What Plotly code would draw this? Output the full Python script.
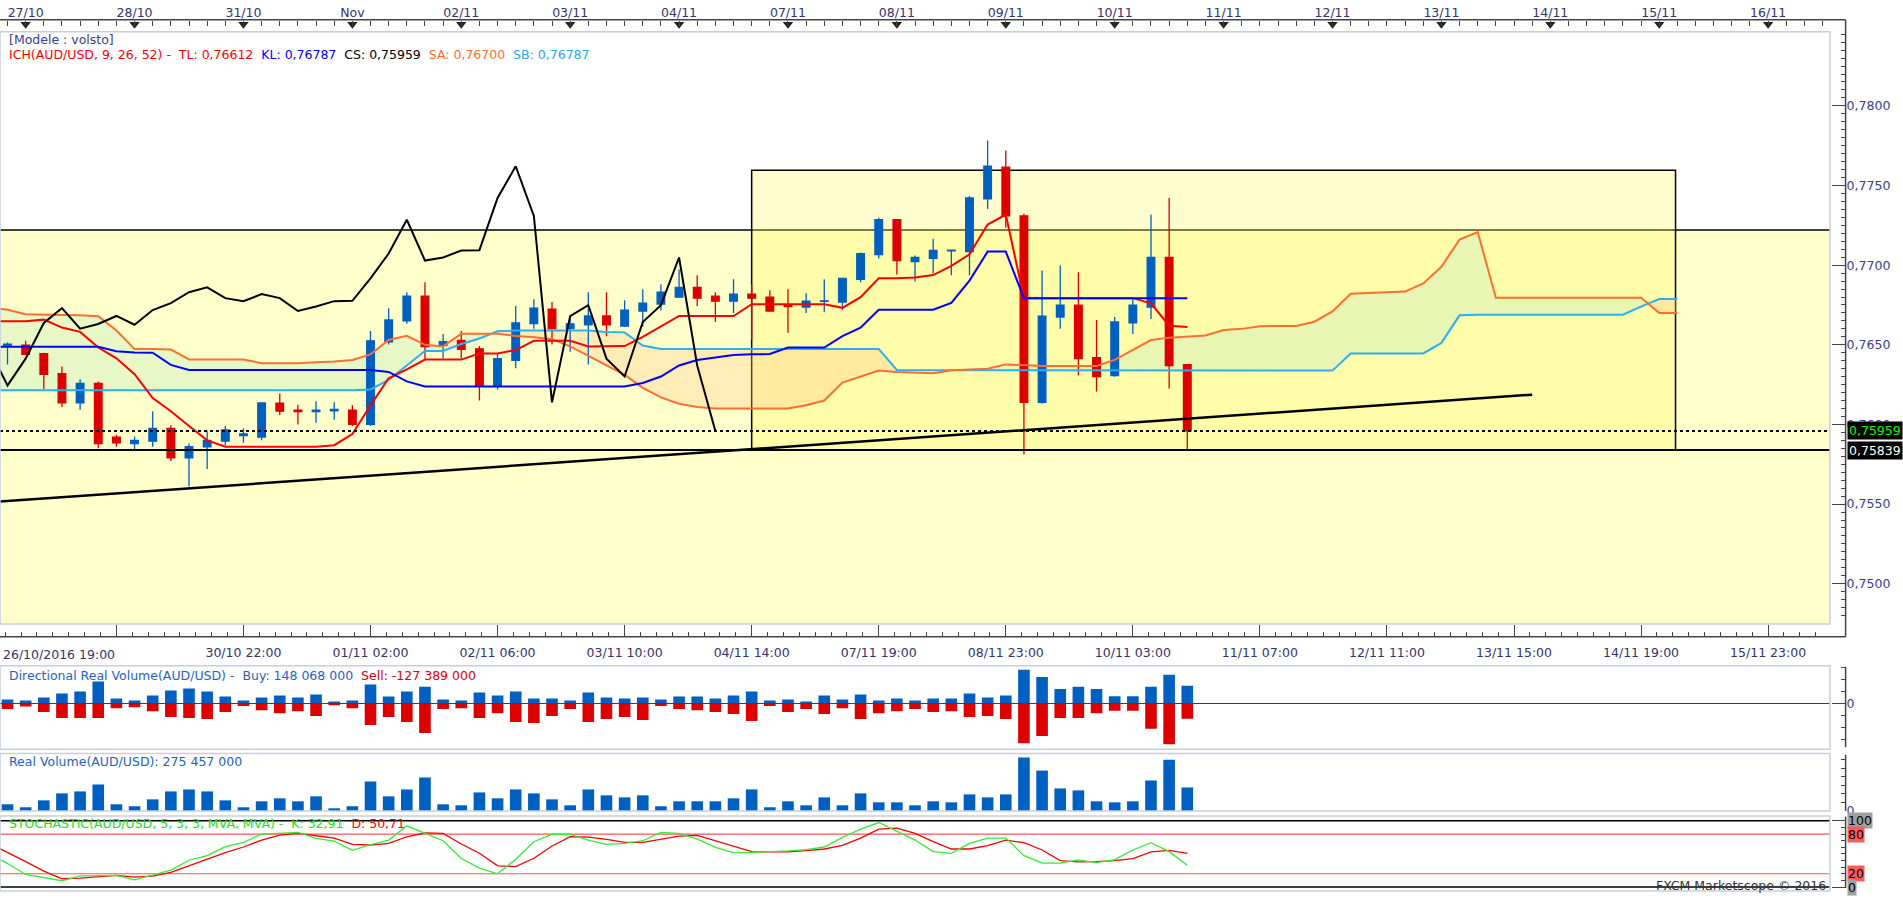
import plotly.graph_objects as go

# ============================ DATA ============================
# 4-hour candles, index 0..65
OPEN = [0.76492, 0.76498, 0.76444, 0.76319, 0.76135, 0.76257, 0.75920, 0.75880, 0.75895, 0.75975,
        0.75790, 0.75860, 0.75895, 0.75930, 0.75920, 0.76133, 0.76090, 0.76080, 0.76085, 0.76090,
        0.76000, 0.76519, 0.76651, 0.76805, 0.76496, 0.76527, 0.76475, 0.76240, 0.76402, 0.76633,
        0.76724, 0.76601, 0.76626, 0.76681, 0.76618, 0.76712, 0.76755, 0.76799, 0.76861, 0.76805,
        0.76774, 0.76818, 0.76799, 0.76748, 0.76737, 0.76772, 0.76768, 0.76911, 0.77067, 0.77285,
        0.77023, 0.77042, 0.77090, 0.77085, 0.77417, 0.77615, 0.77309, 0.76139, 0.76674, 0.76749,
        0.76419, 0.76307, 0.76637, 0.76737, 0.77048, 0.76376]
HIGH = [0.76514, 0.76525, 0.76450, 0.76363, 0.76284, 0.76270, 0.75935, 0.75925, 0.76083, 0.75995,
        0.75880, 0.75960, 0.75990, 0.75975, 0.76140, 0.76195, 0.76124, 0.76145, 0.76140, 0.76120,
        0.76587, 0.76730, 0.76830, 0.76892, 0.76567, 0.76586, 0.76492, 0.76442, 0.76743, 0.76786,
        0.76768, 0.76681, 0.76830, 0.76830, 0.76780, 0.76849, 0.76880, 0.76973, 0.76936, 0.76830,
        0.76911, 0.76880, 0.76842, 0.76849, 0.76824, 0.76911, 0.76917, 0.77079, 0.77297, 0.77285,
        0.77060, 0.77166, 0.77095, 0.77434, 0.77783, 0.77720, 0.77322, 0.76966, 0.76998, 0.76955,
        0.76656, 0.76674, 0.76786, 0.77316, 0.77422, 0.76376]
LOW = [0.76377, 0.76436, 0.76222, 0.76110, 0.76093, 0.75850, 0.75860, 0.75845, 0.75860, 0.75770,
       0.75610, 0.75720, 0.75870, 0.75885, 0.75900, 0.76060, 0.76000, 0.76010, 0.76030, 0.75990,
       0.75990, 0.76502, 0.76632, 0.76408, 0.76415, 0.76415, 0.76150, 0.76220, 0.76352, 0.76601,
       0.76502, 0.76456, 0.76377, 0.76556, 0.76612, 0.76612, 0.76716, 0.76799, 0.76743, 0.76643,
       0.76699, 0.76533, 0.76712, 0.76575, 0.76699, 0.76705, 0.76718, 0.76893, 0.77042, 0.76942,
       0.76898, 0.76948, 0.76936, 0.76936, 0.77353, 0.77235, 0.75811, 0.76130, 0.76600, 0.76307,
       0.76207, 0.76300, 0.76568, 0.76662, 0.76226, 0.75834]
CLOSE = [0.76504, 0.76440, 0.76315, 0.76135, 0.76257, 0.75880, 0.75885, 0.75900, 0.75975, 0.75790,
         0.75860, 0.75900, 0.75965, 0.75940, 0.76135, 0.76083, 0.76080, 0.76090, 0.76095, 0.76000,
         0.76525, 0.76656, 0.76805, 0.76489, 0.76519, 0.76471, 0.76245, 0.76413, 0.76637, 0.76730,
         0.76601, 0.76631, 0.76681, 0.76626, 0.76718, 0.76761, 0.76830, 0.76861, 0.76793, 0.76774,
         0.76818, 0.76793, 0.76712, 0.76740, 0.76774, 0.76776, 0.76917, 0.77073, 0.77285, 0.77029,
         0.77048, 0.77092, 0.77094, 0.77422, 0.77621, 0.77309, 0.76139, 0.76680, 0.76749, 0.76413,
         0.76301, 0.76643, 0.76749, 0.77048, 0.76370, 0.75959]

# Ichimoku lines (index -1 .. 65)
TENKAN = [0.76648, 0.76648, 0.76648, 0.76658, 0.76608, 0.76581, 0.76483, 0.76415, 0.76315, 0.76166, 0.76083,
          0.75990, 0.75900, 0.75860, 0.75860, 0.75860, 0.75860, 0.75860, 0.75860, 0.75870, 0.75940,
          0.76120, 0.76290, 0.76346, 0.76407, 0.76407, 0.76407, 0.76446, 0.76446, 0.76467, 0.76525,
          0.76525, 0.76525, 0.76490, 0.76490, 0.76492, 0.76550, 0.76616, 0.76681, 0.76681, 0.76681,
          0.76681, 0.76755, 0.76755, 0.76755, 0.76755, 0.76755, 0.76732, 0.76799, 0.76917, 0.76917,
          0.76923, 0.76938, 0.76996, 0.77068, 0.77255, 0.77318, 0.76793, 0.76793, 0.76793, 0.76793,
          0.76793, 0.76793, 0.76793, 0.76760, 0.76620, 0.76612]
KIJUN = [0.76488, 0.76488, 0.76488, 0.76488, 0.76488, 0.76488, 0.76488, 0.76460, 0.76452, 0.76450, 0.76374,
         0.76342, 0.76342, 0.76342, 0.76342, 0.76342, 0.76342, 0.76342, 0.76342, 0.76342, 0.76342,
         0.76342, 0.76330, 0.76270, 0.76238, 0.76238, 0.76238, 0.76238, 0.76238, 0.76238, 0.76238,
         0.76238, 0.76238, 0.76238, 0.76238, 0.76238, 0.76260, 0.76301, 0.76370, 0.76405, 0.76420,
         0.76436, 0.76440, 0.76442, 0.76483, 0.76483, 0.76483, 0.76554, 0.76608, 0.76720, 0.76720,
         0.76720, 0.76720, 0.76763, 0.76903, 0.77085, 0.77085, 0.76793, 0.76793, 0.76793, 0.76793,
         0.76793, 0.76793, 0.76793, 0.76793, 0.76793, 0.76793]
# Senkou spans (index -1 .. 92)
SENKOU_A = [0.76735,
            0.76720, 0.76692, 0.76688, 0.76687, 0.76686, 0.76680, 0.76590, 0.76473, 0.76473, 0.76470,
            0.76408, 0.76408, 0.76408, 0.76408, 0.76384, 0.76384, 0.76384, 0.76390, 0.76395, 0.76405,
            0.76440, 0.76530, 0.76556, 0.76500, 0.76490, 0.76570, 0.76570, 0.76570, 0.76555, 0.76548,
            0.76535, 0.76490, 0.76430, 0.76373, 0.76311, 0.76230, 0.76170, 0.76130, 0.76110, 0.76100,
            0.76100, 0.76100, 0.76100, 0.76100, 0.76120, 0.76150, 0.76263, 0.76301, 0.76338, 0.76330,
            0.76326, 0.76321, 0.76340, 0.76346, 0.76350, 0.76377, 0.76372, 0.76367, 0.76367, 0.76367,
            0.76367, 0.76405, 0.76465, 0.76530, 0.76545, 0.76554, 0.76559, 0.76593, 0.76600, 0.76617,
            0.76618, 0.76618, 0.76645, 0.76710, 0.76820, 0.76824, 0.76828, 0.76834, 0.76885, 0.76990,
            0.77160, 0.77208, 0.76795, 0.76795, 0.76795, 0.76795, 0.76795, 0.76795, 0.76795, 0.76795,
            0.76795, 0.76700, 0.76700]
SENKOU_B = [0.76215,
            0.76215, 0.76215, 0.76215, 0.76215, 0.76215, 0.76215, 0.76215, 0.76215, 0.76215, 0.76215,
            0.76215, 0.76215, 0.76215, 0.76215, 0.76215, 0.76215, 0.76215, 0.76215, 0.76215, 0.76215,
            0.76220, 0.76280, 0.76370, 0.76461, 0.76461, 0.76505, 0.76540, 0.76585, 0.76589, 0.76589,
            0.76589, 0.76589, 0.76589, 0.76581, 0.76578, 0.76495, 0.76473, 0.76473, 0.76473, 0.76473,
            0.76473, 0.76473, 0.76473, 0.76473, 0.76473, 0.76473, 0.76473, 0.76473, 0.76473, 0.76342,
            0.76342, 0.76342, 0.76342, 0.76342, 0.76342, 0.76342, 0.76342, 0.76342, 0.76342, 0.76342,
            0.76342, 0.76342, 0.76342, 0.76342, 0.76342, 0.76342, 0.76342, 0.76342, 0.76342, 0.76342,
            0.76342, 0.76342, 0.76342, 0.76338, 0.76446, 0.76446, 0.76446, 0.76446, 0.76446, 0.76512,
            0.76685, 0.76689, 0.76689, 0.76689, 0.76689, 0.76689, 0.76689, 0.76689, 0.76689, 0.76689,
            0.76740, 0.76787, 0.76787]
CHIKOU_SHIFT = 26

# Directional real volume (millions), index 0..65
BUY_VOL = [33, 25, 50, 83, 100, 183, 42, 25, 66, 108,
           125, 100, 58, 25, 50, 66, 50, 75, 17, 25,
           158, 58, 100, 141, 33, 25, 91, 66, 100, 42,
           42, 25, 91, 50, 42, 50, 33, 58, 58, 42,
           66, 100, 25, 33, 17, 66, 33, 75, 25, 42,
           25, 42, 42, 83, 50, 66, 282, 222, 121, 141,
           121, 61, 61, 141, 241, 148.068]
SELL_VOL = [-47, -25, -72, -122, -122, -122, -39, -31, -64, -114,
            -122, -130, -72, -22, -56, -81, -64, -105, -14, -39,
            -180, -114, -155, -246, -47, -39, -122, -81, -155, -164,
            -105, -47, -155, -130, -114, -139, -22, -47, -56, -72,
            -89, -147, -22, -72, -47, -89, -39, -130, -81, -64,
            -47, -72, -64, -114, -105, -130, -332, -272, -121, -121,
            -81, -61, -61, -212, -340, -127.389]
REAL_VOL = [78, 43, 124, 206, 229, 310, 78, 55, 136, 229,
            252, 229, 124, 43, 113, 148, 113, 171, 31, 55,
            345, 171, 252, 392, 78, 66, 217, 148, 252, 206,
            136, 66, 252, 183, 159, 183, 55, 113, 113, 113,
            148, 252, 43, 113, 66, 159, 66, 206, 101, 101,
            66, 113, 101, 194, 159, 194, 625, 473, 264, 241,
            113, 101, 113, 357, 601, 275.457]

# Stochastic (index -1 .. 65)
STOCH_K = [50,
           35.5, 19, 14, 9.5, 17, 17.5, 17.5, 11, 18, 25.5,
           40.5, 47.5, 61, 67.5, 80, 81, 82.5, 73.5, 69.5, 55.5,
           64, 71, 92.5, 81, 70, 43, 28.5, 20, 42, 68.5,
           80, 79.5, 71, 64.5, 66, 70, 82.5, 81, 72.5, 60,
           51.5, 52.5, 53, 54.5, 56.5, 60.5, 75, 87.5, 97.5, 84,
           71, 53.5, 51, 66, 74, 74, 47.5, 36, 36, 41,
           37, 41.5, 56, 67, 53.5, 32.91]
STOCH_D = [66,
           52.5, 38.5, 24, 12.5, 13.5, 15.5, 17.5, 15, 16.5, 22,
           32, 42, 52, 60.5, 71, 78.5, 81, 77.5, 74, 64.5,
           63.5, 66, 76, 82, 81, 65, 51, 32, 31, 43.5,
           62, 76, 75.5, 72, 67.5, 67.5, 72, 77, 78, 70,
           61, 53.5, 53, 53, 55, 57.5, 63, 74, 87.5, 89,
           81, 68.5, 57.5, 57.5, 62.5, 71, 67, 56, 40, 38,
           38.5, 40, 43, 53, 55.5, 50.71]
STOCH_LEVELS = [0, 20, 80, 100]

# Axis labels
TOP_LABELS = ['27/10', '28/10', '31/10', 'Nov', '02/11', '03/11', '04/11', '07/11', '08/11',
              '09/11', '10/11', '11/11', '12/11', '13/11', '14/11', '15/11', '16/11']
TOP_LABEL_IDX = [1, 7, 13, 19, 25, 31, 37, 43, 49, 55, 61, 67, 73, 79, 85, 91, 97]
BOTTOM_LABELS = ['', '30/10 22:00', '01/11 02:00', '02/11 06:00', '03/11 10:00', '04/11 14:00',
                 '07/11 19:00', '08/11 23:00', '10/11 03:00', '11/11 07:00', '12/11 11:00',
                 '13/11 15:00', '14/11 19:00', '15/11 23:00']
BOTTOM_LABEL_IDX = [6, 13, 20, 27, 34, 41, 48, 55, 62, 69, 76, 83, 90, 97]
FIRST_BOTTOM_LABEL = '26/10/2016 19:00'
PRICE_TICKS = [0.7500, 0.7550, 0.7600, 0.7650, 0.7700, 0.7750, 0.7800]

# Drawn objects (data units)
SUPPORT = 0.75839
LAST_PRICE = 0.75959
RESISTANCE = 0.7722
BOX_X = [41, 91.9]
BOX_Y = [0.75839, 0.77596]
TREND_X = [-0.413, 84.0]
TREND_Y = [0.75516, 0.76187]

# ============================ LAYOUT HELPERS ============================
FW, FH = 1903, 900
def fx(p):
    return p / FW
def fy(p):
    return 1 - p / FH

X_RANGE = [-0.413, 100.41]
X_DOM = [0, fx(1830)]
AXIS_POS = fx(1845.6)
Y_MAIN = [0.747465, 0.784653]
BLUE = '#0060C0'
RED = '#DD0000'
TXT = '#33336E'
AXC = '#3D3D8F'
FONT = 'DejaVu Sans'
FS = 12.5

N = len(CLOSE)
X = list(range(N))
XL = list(range(-1, N))
XS = list(range(-1, len(SENKOU_A) - 1))

fig = go.Figure()

# ---- Ichimoku lines ----
fig.add_trace(go.Scatter(x=XS, y=SENKOU_B, mode='lines', line=dict(color='#2AB0F0', width=2),
                         hoverinfo='skip', xaxis='x', yaxis='y'))
fig.add_trace(go.Scatter(x=XS, y=SENKOU_A, mode='lines', line=dict(color='#FF6E30', width=2),
                         hoverinfo='skip', xaxis='x', yaxis='y'))
fig.add_trace(go.Scatter(x=XL, y=TENKAN, mode='lines', line=dict(color='#FF0000', width=2),
                         hoverinfo='skip', xaxis='x', yaxis='y'))
fig.add_trace(go.Scatter(x=XL, y=KIJUN, mode='lines', line=dict(color='#0000FF', width=2),
                         hoverinfo='skip', xaxis='x', yaxis='y'))
ch_x = [k - CHIKOU_SHIFT for k in X if k - CHIKOU_SHIFT >= -1]
ch_y = [CLOSE[k] for k in X if k - CHIKOU_SHIFT >= -1]
fig.add_trace(go.Scatter(x=ch_x, y=ch_y, mode='lines', line=dict(color='#000000', width=2),
                         hoverinfo='skip', xaxis='x', yaxis='y'))

# ---- Candles ----
fig.add_trace(go.Candlestick(
    x=X, open=OPEN, high=HIGH, low=LOW, close=CLOSE, xaxis='x', yaxis='y',
    increasing=dict(line=dict(color=BLUE, width=1.3), fillcolor=BLUE),
    decreasing=dict(line=dict(color=RED, width=1.3), fillcolor=RED),
    whiskerwidth=0, hoverinfo='skip', showlegend=False))

# ---- Directional real volume ----
fig.add_trace(go.Bar(x=X, y=BUY_VOL, width=0.64, marker=dict(color=BLUE, line=dict(width=0)),
                     hoverinfo='skip', xaxis='x2', yaxis='y2'))
fig.add_trace(go.Bar(x=X, y=SELL_VOL, width=0.64, marker=dict(color=RED, line=dict(width=0)),
                     hoverinfo='skip', xaxis='x2', yaxis='y2'))
# ---- Real volume ----
fig.add_trace(go.Bar(x=X, y=REAL_VOL, width=0.64, marker=dict(color=BLUE, line=dict(width=0)),
                     hoverinfo='skip', xaxis='x3', yaxis='y3'))
# ---- Stochastic ----
fig.add_trace(go.Scatter(x=XL, y=STOCH_D, mode='lines', line=dict(color='#FF0000', width=1.3),
                         hoverinfo='skip', xaxis='x4', yaxis='y4'))
fig.add_trace(go.Scatter(x=XL, y=STOCH_K, mode='lines', line=dict(color='#33EE33', width=1.3),
                         hoverinfo='skip', xaxis='x4', yaxis='y4'))

# ---- Top axis triangles ----
fig.add_trace(go.Scatter(x=TOP_LABEL_IDX, y=[0.5] * len(TOP_LABEL_IDX), mode='markers',
                         marker=dict(symbol='triangle-down', size=9, color='#222222'),
                         cliponaxis=False, hoverinfo='skip', xaxis='x5', yaxis='y5'))

# ============================ AXES ============================
tickfont = dict(family=FONT, size=FS, color=AXC)
common_x = dict(range=X_RANGE, domain=X_DOM, showgrid=False, zeroline=False, fixedrange=True)

layout = dict(
    width=FW, height=FH, autosize=False, margin=dict(l=0, r=0, t=0, b=0),
    paper_bgcolor='white', plot_bgcolor='white', showlegend=False,
    font=dict(family=FONT, size=FS, color=TXT), separators=', ',
    boxgap=0.4, barmode='relative',
    xaxis=dict(**common_x, anchor='free', position=fy(641.7), side='bottom',
               rangeslider=dict(visible=False),
               tickmode='array', tickvals=BOTTOM_LABEL_IDX, ticktext=BOTTOM_LABELS,
               ticks='inside', ticklen=12, tickwidth=1.2, tickcolor='#444444',
               tickfont=dict(family=FONT, size=FS, color=TXT), ticklabelstandoff=7,
               minor=dict(ticks='inside', ticklen=5, tick0=6, dtick=0.875, tickcolor='#444444',
                          tickwidth=1, showgrid=False),
               showline=False),
    xaxis5=dict(**common_x, anchor='free', position=fy(20), side='top',
                tickmode='array', tickvals=TOP_LABEL_IDX, ticktext=TOP_LABELS,
                ticks='inside', ticklen=5, tickcolor='#444444',
                tickfont=dict(family=FONT, size=FS, color=TXT),
                minor=dict(ticks='inside', ticklen=5, tick0=0, dtick=1, tickcolor='#444444',
                           showgrid=False),
                showline=False),
    yaxis5=dict(domain=[fy(30), fy(19)], range=[0, 1], visible=False, anchor='x5', fixedrange=True),
    yaxis=dict(domain=[fy(629), fy(32)], range=Y_MAIN, side='right', anchor='free',
               position=AXIS_POS, tickmode='array', tickvals=PRICE_TICKS, tickformat='.4f',
               ticks='inside', ticklen=14, tickcolor='#444444', tickfont=tickfont,
               minor=dict(ticks='inside', ticklen=5, tick0=0.75, dtick=0.0005,
                          tickcolor='#444444', showgrid=False),
               showgrid=False, zeroline=False, showline=False, fixedrange=True),
    xaxis2=dict(**common_x, anchor='y2', visible=False),
    yaxis2=dict(domain=[fy(755), fy(671)], range=[-381.8, 315.4], side='right', anchor='free',
                position=AXIS_POS, tickmode='array', tickvals=[0], ticktext=['0'],
                ticks='inside', ticklen=14, tickcolor='#444444', tickfont=tickfont,
                minor=dict(ticks='inside', ticklen=5, tick0=0, dtick=100, tickcolor='#444444'),
                showgrid=False, zeroline=False, showline=False, fixedrange=True),
    xaxis3=dict(**common_x, anchor='y3', visible=False),
    yaxis3=dict(domain=[fy(817.3), fy(759.3)], range=[0, 674.5], side='right', anchor='free',
                position=AXIS_POS, tickmode='array', tickvals=[0], ticktext=['0'],
                ticks='inside', ticklen=14, tickcolor='#444444', tickfont=tickfont,
                minor=dict(ticks='inside', ticklen=5, tick0=0, dtick=100, tickcolor='#444444'),
                showgrid=False, zeroline=False, showline=False, fixedrange=True),
    xaxis4=dict(**common_x, anchor='y4', visible=False),
    yaxis4=dict(domain=[fy(898), fy(822.3)], range=[-6, 107.5], side='right', anchor='free',
                position=AXIS_POS, tickmode='array', tickvals=[0, 100], showticklabels=False,
                ticks='inside', ticklen=14, tickcolor='#444444',
                minor=dict(ticks='inside', ticklen=5, tick0=0, dtick=10, tickcolor='#444444'),
                showgrid=False, zeroline=False, showline=False, fixedrange=True),
)
fig.update_layout(**layout)

# ============================ SHAPES ============================
shapes = []
# big pale-yellow zone below resistance
shapes.append(dict(type='rect', xref='x domain', yref='y', x0=0, x1=1, y0=Y_MAIN[0], y1=RESISTANCE,
                   fillcolor='#FFFFCC', line=dict(width=0), layer='below'))
shapes.append(dict(type='line', xref='x domain', yref='y', x0=0, x1=1, y0=RESISTANCE, y1=RESISTANCE,
                   line=dict(color='#000000', width=1.5), layer='below'))
# highlighted box
shapes.append(dict(type='rect', xref='x', yref='y', x0=BOX_X[0], x1=BOX_X[1], y0=BOX_Y[0], y1=BOX_Y[1],
                   fillcolor='rgba(255,245,100,0.32)', line=dict(color='#000000', width=1.5),
                   layer='below'))


# ---- Kumo cloud polygons (drawn as data-referenced path shapes, beneath the candles) ----
def cloud_polys(xs, a, b):
    polys = []
    sign = None
    sx, sa, sb = [], [], []
    for i in range(len(xs)):
        d = a[i] - b[i]
        s = d >= 0
        if sign is None:
            sign = s
        elif s != sign:
            d0 = a[i - 1] - b[i - 1]
            t = d0 / (d0 - d)
            xc = xs[i - 1] + t * (xs[i] - xs[i - 1])
            yc = a[i - 1] + t * (a[i] - a[i - 1])
            sx.append(xc); sa.append(yc); sb.append(yc)
            polys.append((sign, sx, sa, sb))
            sx, sa, sb = [xc], [yc], [yc]
            sign = s
        sx.append(xs[i]); sa.append(a[i]); sb.append(b[i])
    polys.append((sign, sx, sa, sb))
    return polys


for sign, sx, sa, sb in cloud_polys(XS, SENKOU_A, SENKOU_B):
    px_ = sx + sx[::-1]
    py_ = sa + sb[::-1]
    path = 'M ' + ' L '.join('%.4f,%.6f' % (u, v) for u, v in zip(px_, py_)) + ' Z'
    shapes.append(dict(type='path', xref='x', yref='y', path=path,
                       fillcolor='rgba(205,238,190,0.45)' if sign else 'rgba(255,196,140,0.32)',
                       line=dict(width=0), layer='below'))

# support / last price / trend
shapes.append(dict(type='line', xref='x domain', yref='y', x0=0, x1=1, y0=SUPPORT, y1=SUPPORT,
                   line=dict(color='#000000', width=2), layer='above'))
shapes.append(dict(type='line', xref='x domain', yref='y', x0=0, x1=1, y0=LAST_PRICE, y1=LAST_PRICE,
                   line=dict(color='#000000', width=2, dash='3px,3px'), layer='above'))
shapes.append(dict(type='line', xref='x', yref='y', x0=TREND_X[0], x1=TREND_X[1],
                   y0=TREND_Y[0], y1=TREND_Y[1], line=dict(color='#000000', width=2.5), layer='above'))
# DRV zero line
shapes.append(dict(type='line', xref='x2 domain', yref='y2', x0=0, x1=1, y0=0, y1=0,
                   line=dict(color='#CC0000', width=1.2), layer='above'))
# stochastic levels
for lv in STOCH_LEVELS:
    col = '#000000' if lv in (0, 100) else '#FF5555'
    shapes.append(dict(type='line', xref='x4 domain', yref='y4', x0=0, x1=1, y0=lv, y1=lv,
                       line=dict(color=col, width=1.5 if lv in (0, 100) else 1.1), layer='below'))
# panel frames
FRAME = '#C6CFDB'
for top, bot in [(32, 629), (671, 755), (759.3, 817.3), (822.3, 898)]:
    shapes.append(dict(type='rect', xref='paper', yref='paper', x0=0, x1=fx(1830),
                       y0=fy(bot), y1=fy(top), line=dict(color=FRAME, width=1.5), layer='above'))
# axis lines
AL = '#444444'
shapes.append(dict(type='line', xref='paper', yref='paper', x0=0, x1=AXIS_POS, y0=fy(20), y1=fy(20),
                   line=dict(color=AL, width=1.5)))
shapes.append(dict(type='line', xref='paper', yref='paper', x0=0, x1=AXIS_POS, y0=fy(641.7), y1=fy(641.7),
                   line=dict(color=AL, width=1.5)))
for top, bot in [(20, 641.7), (672, 753), (760.7, 817.3), (823, 895)]:
    shapes.append(dict(type='line', xref='paper', yref='paper', x0=AXIS_POS, x1=AXIS_POS,
                       y0=fy(bot), y1=fy(top), line=dict(color=AL, width=1.5)))
fig.update_layout(shapes=shapes)

# ============================ ANNOTATIONS ============================
NB = '\u00a0'
def span(c, t):
    return '<span style="color:%s">%s</span>' % (c, t.replace(' ', NB))

ann = []
def add_text(x, y, text, color=TXT, xanchor='left', **kw):
    ann.append(dict(xref='paper', yref='paper', x=x, y=y, text=text, showarrow=False,
                    xanchor=xanchor, yanchor='middle', font=dict(family=FONT, size=FS, color=color),
                    **kw))

add_text(fx(7), fy(40), '[Modele : volsto]'.replace(' ', NB), color='#3C3C8C')
ich = (span('#FF0000', 'ICH(AUD/USD, 9, 26, 52) -  TL: 0,76612') + NB * 2 +
       span('#0000FF', 'KL: 0,76787') + NB * 2 +
       span('#000000', 'CS: 0,75959') + NB * 2 +
       span('#FF6E30', 'SA: 0,76700') + NB * 2 +
       span('#2AA8F0', 'SB: 0,76787'))
add_text(fx(7), fy(55), ich)
add_text(fx(1), fy(659.5), FIRST_BOTTOM_LABEL.replace(' ', NB), color=TXT)
drv = (span('#1F62C4', 'Directional Real Volume(AUD/USD) -  Buy: 148 068 000') + NB * 2 +
       span('#E00000', 'Sell: -127 389 000'))
add_text(fx(7), fy(681), drv)
add_text(fx(7), fy(767), 'Real Volume(AUD/USD): 275 457 000'.replace(' ', NB), color='#1F62C4')
sto = (span('#22DD22', 'STOCHASTIC(AUD/USD, 5, 3, 3, MVA, MVA) -  K: 32,91') + NB * 2 +
       span('#FF0000', 'D: 50,71'))
add_text(fx(7), fy(830), sto)
add_text(fx(1828), fy(892), 'FXCM Marketscope © 2016'.replace(' ', NB), color='#333333', xanchor='right')

# price badges on axis
ann.append(dict(xref='paper', yref='y', x=fx(1846.5), y=LAST_PRICE, text='0,75959', showarrow=False,
                xanchor='left', yanchor='middle', bgcolor='#000000', borderpad=1,
                font=dict(family=FONT, size=FS, color='#00FF00')))
ann.append(dict(xref='paper', yref='y', x=fx(1846.5), y=SUPPORT, text='0,75839', showarrow=False,
                xanchor='left', yanchor='middle', bgcolor='#000000', borderpad=1,
                font=dict(family=FONT, size=FS, color='#FFFFFF')))
# stochastic level badges
for lv in [100, 80, 20, 0]:
    bg = '#A0A0A0' if lv in (0, 100) else '#FF5A5A'
    ann.append(dict(xref='paper', yref='y4', x=fx(1847), y=lv, text=str(lv), showarrow=False,
                    xanchor='left', yanchor='middle', bgcolor=bg, borderpad=0,
                    font=dict(family=FONT, size=FS, color='#000000')))
fig.update_layout(annotations=ann)

fig.write_html("out.html", config=dict(displayModeBar=False),
               post_script="document.body.style.margin='0px';document.body.style.overflow='hidden';")
